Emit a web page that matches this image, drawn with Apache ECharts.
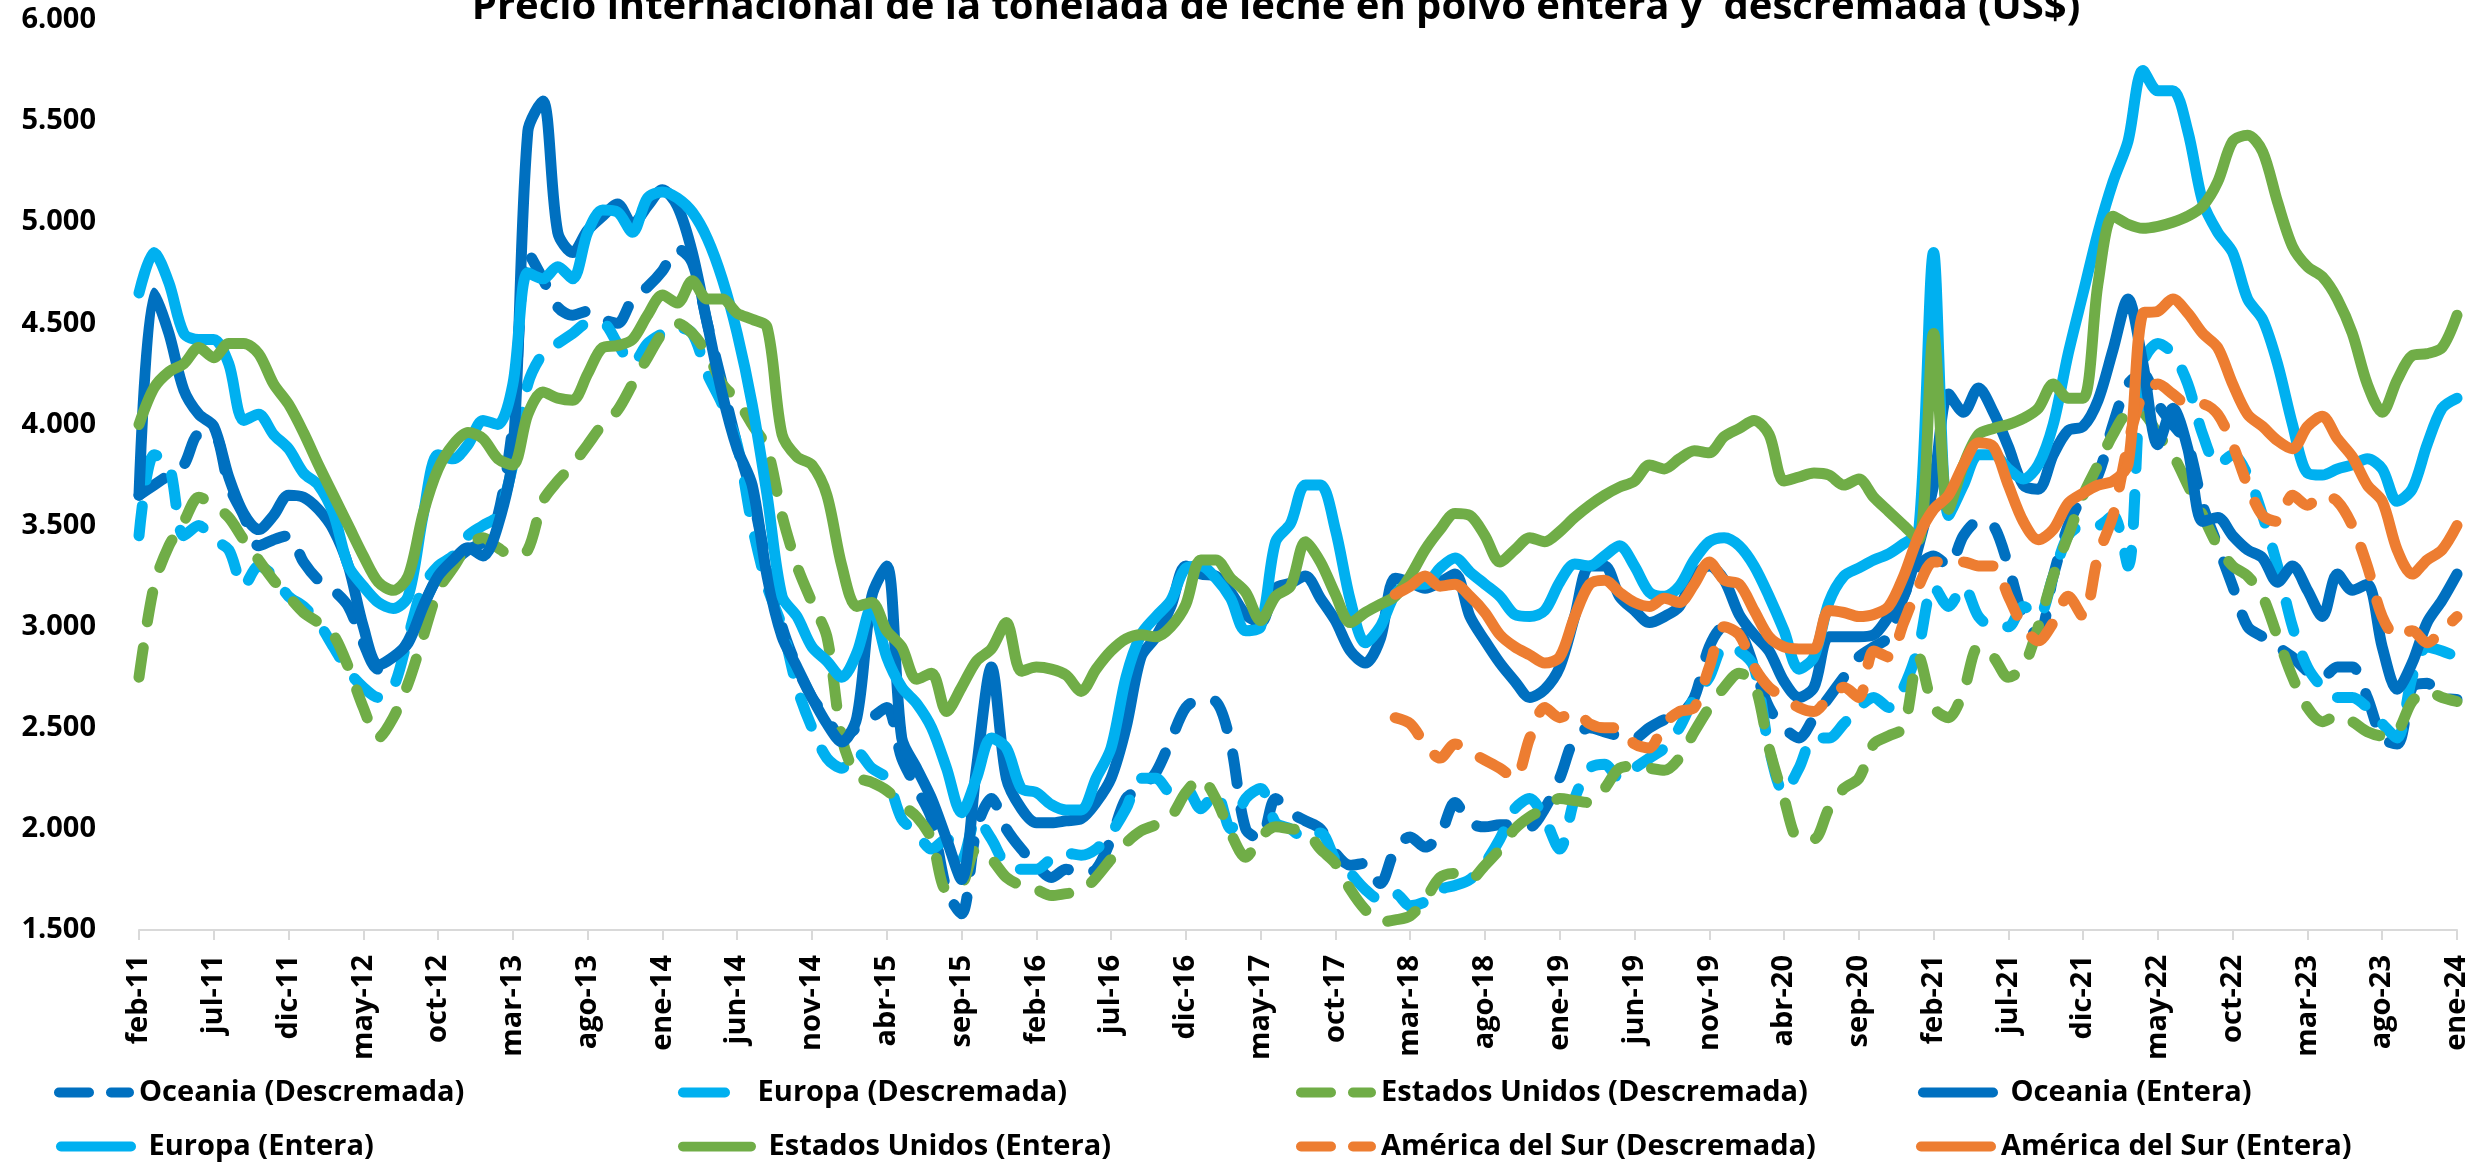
<!DOCTYPE html>
<html>
<head>
<meta charset="utf-8">
<script src="https://cdn.jsdelivr.net/npm/echarts@6/dist/echarts.min.js"></script>
<style>
  html, body { margin: 0; padding: 0; background: #ffffff; }
  #chart { width: 2483px; height: 1168px; }
</style>
</head>
<body>
<div id="chart"></div>
<script>
// Monthly categories: feb-11 .. ene-24
const monthNames = ['ene', 'feb', 'mar', 'abr', 'may', 'jun', 'jul', 'ago', 'sep', 'oct', 'nov', 'dic'];
const categories = [];
for (let k = 0; k < 156; k++) {
  const m = (1 + k) % 12;
  const y = 11 + Math.floor((1 + k) / 12);
  categories.push(monthNames[m] + '-' + y);
}

// US$ per tonne
const oceaniaDescremada = [
  3650, 3700, 3750, 3800, 3950, 3950, 3700, 3550, 3400, 3430,
  3450, 3320, 3230, 3180, 3100, 2920, 2790, 2830, 2930, 3100,
  3250, 3320, 3380, 3420, 3550, 4000, 4850, 4720, 4580, 4540,
  4560, 4520, 4500, 4620, 4680, 4760, 4870, 4800, 4500, 4200,
  3900, 3650, 3300, 3000, 2800, 2650, 2550, 2450, 2500, 2550,
  2600, 2350, 2200, 2050, 1700, 1580, 2000, 2150, 2000, 1900,
  1820, 1760, 1800, 1780, 1800, 1950, 2150, 2200, 2280, 2440,
  2600, 2640, 2630, 2420, 2000, 1950, 2150, 2080, 2040, 2000,
  1880, 1820, 1830, 1730, 1900, 1960, 1910, 1970, 2130, 2030,
  2010, 2020, 2020, 2010, 2100, 2250, 2450, 2500, 2480, 2460,
  2450, 2500, 2540, 2560, 2650, 2900, 3000, 2980, 2800, 2600,
  2500, 2450, 2550, 2650, 2750, 2850, 2900, 2950, 3150, 3300,
  3350, 3300, 3450, 3520, 3500, 3300, 3050, 2950, 3250, 3500,
  3650, 3750, 4000, 4200, 4250, 4100, 4000, 3900, 3600, 3400,
  3200, 3000, 2950, 2900, 2850, 2780, 2750, 2800, 2800, 2650,
  2450, 2420, 2700, 2720, 2650, 2640
];

const europaDescremada = [
  3450, 3850, 3800, 3450, 3500, 3430, 3380, 3200, 3300, 3250,
  3150, 3100, 3020, 2900, 2780, 2700, 2650, 2700, 2950, 3200,
  3300, 3350, 3450, 3500, 3550, 3800, 4200, 4350, 4400, 4450,
  4500, 4500, 4400, 4300, 4400, 4450, 4480, 4450, 4250, 4100,
  3900, 3500, 3200, 3000, 2700, 2500, 2350, 2300, 2380, 2300,
  2250, 2050, 1980, 1900, 1950, 1850, 2050, 1950, 1820, 1800,
  1800, 1850, 1880, 1870, 1900, 1980, 2100, 2250, 2250, 2180,
  2200, 2100, 2180, 2000, 2150, 2200, 2030, 2000, 1950, 1980,
  1850, 1780, 1700, 1650, 1680, 1620, 1640, 1700, 1720, 1750,
  1830, 1950, 2100, 2150, 2050, 1900, 2150, 2300, 2320, 2250,
  2300, 2350, 2400, 2500, 2650, 2750, 2900, 2880, 2800, 2400,
  2180, 2300, 2450, 2450, 2520, 2600, 2650, 2600, 2700, 2900,
  3200, 3100, 3200, 3050, 3000, 3000, 3100, 3050, 3250, 3450,
  3500, 3500, 3550, 3300, 4300, 4400, 4350, 4200, 3950, 3800,
  3850, 3750, 3550, 3300, 3000, 2800, 2700, 2650, 2650, 2600,
  2520, 2450, 2750, 2900, 2880, 2850
];

const eeuuDescremada = [
  2750, 3200, 3400, 3520, 3640, 3600, 3540, 3430, 3330, 3230,
  3150, 3070, 3020, 2960, 2800, 2600, 2450, 2550, 2720, 2950,
  3180, 3290, 3400, 3440, 3390, 3350, 3380, 3620, 3720, 3800,
  3900, 4000, 4070, 4200, 4330, 4450, 4500, 4450, 4350, 4200,
  4120, 4000, 3880, 3550, 3300, 3120, 2950, 2450, 2260, 2230,
  2190, 2120, 2060, 1950, 1700, 1720, 1900, 1850, 1760, 1720,
  1700, 1670, 1680, 1690, 1760, 1850, 1930, 1990, 2020, 2060,
  2180, 2250, 2150, 1980, 1860, 1960, 2010, 2000, 1990, 1900,
  1830, 1700, 1600, 1540, 1550, 1570, 1650, 1760, 1780, 1750,
  1820, 1900, 2000, 2060, 2100, 2150, 2140, 2130, 2200, 2300,
  2310, 2300, 2290, 2350, 2480, 2600, 2700, 2770, 2720, 2400,
  2150, 1950, 1950, 2100, 2200, 2250, 2420, 2460, 2500, 2850,
  2600, 2550, 2680, 2900, 2850, 2750, 2800, 3000, 3250, 3450,
  3650, 3800, 3950, 4050, 4050, 3950, 3850, 3700, 3550, 3400,
  3300, 3250, 3150, 2950, 2750, 2600, 2530, 2560, 2530, 2480,
  2460, 2480, 2630, 2680, 2650, 2630
];

const oceaniaEntera = [
  3650, 4650, 4450, 4170, 4050, 3990, 3740, 3560, 3480, 3550,
  3650, 3640, 3580, 3480, 3300, 3000, 2810, 2850, 2920, 3100,
  3250, 3330, 3390, 3350, 3500, 3850, 5450, 5600, 4950, 4850,
  4960, 5030, 5090, 4990, 5080, 5160, 5080, 4850, 4500, 4150,
  3880, 3700, 3250, 2950, 2800, 2650, 2520, 2430, 2550, 3150,
  3300, 2450, 2300, 2150, 1950, 1750, 2300, 2800, 2250, 2100,
  2030, 2030, 2040, 2050, 2130, 2250, 2500, 2850, 2950, 3100,
  3300, 3260, 3250, 3170, 3060, 3020, 3190, 3215, 3250, 3140,
  3030, 2880, 2820, 2940, 3240, 3220, 3190, 3220, 3260, 3050,
  2930, 2820, 2730, 2650, 2690, 2800, 3050, 3300, 3300, 3150,
  3080, 3020, 3050, 3100, 3250, 3300, 3230, 3060, 2960, 2880,
  2730, 2650, 2700, 2950, 2950, 2950, 2960, 3050, 3150, 3400,
  3700, 4150, 4060, 4180, 4060, 3890, 3700, 3680, 3850, 3970,
  3990, 4120, 4370, 4620, 4300, 3900, 4080, 3880, 3520, 3540,
  3450, 3380, 3340, 3220, 3300, 3180, 3050, 3260, 3180, 3210,
  2900, 2690, 2820, 3020, 3130, 3260
];

const europaEntera = [
  4650, 4850, 4700, 4450, 4420, 4420, 4300, 4020, 4050, 3950,
  3880, 3760, 3700, 3560, 3300, 3200, 3120, 3090, 3150, 3550,
  3850, 3830, 3900, 4020, 4000, 4200, 4750, 4720, 4780, 4720,
  4950, 5060, 5050, 4950, 5120, 5150, 5120, 5050, 4920, 4720,
  4450, 4100, 3650, 3150, 3050, 2900, 2830, 2750, 2870, 3100,
  2850, 2700, 2620, 2500, 2300, 2080, 2250, 2450, 2400, 2200,
  2180, 2120, 2094, 2094, 2250, 2400, 2750, 2960, 3050, 3130,
  3290, 3300, 3240, 3140, 2980, 3000, 3420, 3510, 3700, 3700,
  3480, 3130, 2920, 3000, 3160, 3210, 3210, 3290, 3340, 3270,
  3210, 3150, 3060, 3050, 3080, 3220, 3310, 3300, 3350, 3400,
  3300, 3170, 3150, 3200, 3330, 3420, 3440, 3400, 3300, 3150,
  2980, 2790, 2850, 3120, 3250, 3290, 3330, 3360, 3410, 3470,
  4850, 3550, 3700, 3850, 3850, 3780, 3730, 3800, 4000, 4350,
  4650, 4950, 5200, 5400, 5750, 5650, 5650, 5450, 5100, 4950,
  4850, 4620, 4520, 4300, 4000, 3760, 3750, 3780, 3800, 3830,
  3780, 3620, 3680, 3900, 4080, 4130
];

const eeuuEntera = [
  4000, 4180, 4260, 4300, 4380, 4330, 4400, 4400, 4350, 4200,
  4100, 3960, 3800, 3650, 3500, 3350, 3220, 3180, 3250, 3560,
  3780, 3900, 3960, 3930, 3830, 3800, 4050, 4160, 4130, 4120,
  4250, 4380, 4390, 4420, 4540, 4640, 4600, 4710, 4620, 4620,
  4550, 4520, 4480, 3950, 3840, 3800, 3650, 3300, 3100, 3120,
  2980, 2900, 2740, 2770, 2580, 2700, 2830, 2890, 3020, 2780,
  2800, 2790, 2760, 2680, 2790, 2880, 2940, 2960, 2950, 3000,
  3110, 3330, 3330, 3240, 3170, 3030, 3150, 3200, 3420, 3320,
  3160, 3020, 3070, 3110, 3150, 3250, 3380, 3480, 3560, 3550,
  3450, 3320, 3380, 3440, 3420, 3470, 3540, 3600, 3650, 3690,
  3720, 3800, 3780, 3830, 3870, 3860, 3940, 3980, 4020, 3950,
  3720, 3740, 3760, 3750, 3700, 3730, 3640, 3570, 3500, 3430,
  4450, 3580, 3800, 3950, 3980, 4000, 4030, 4080, 4200, 4130,
  4130, 4700, 5030, 4990, 4970, 4980, 5000, 5030, 5080, 5200,
  5400, 5430, 5350, 5100, 4880, 4780, 4730, 4620, 4450, 4200,
  4060, 4220, 4340, 4350, 4380, 4540
];

// South America is reported from feb-18 on (index 84)
const sudamericaDescremada = new Array(84).fill(null).concat([
  2550, 2520, 2420, 2350, 2420, 2380,
  2340, 2300, 2250, 2450, 2600, 2550, 2580, 2520, 2500, 2500,
  2420, 2400, 2520, 2580, 2600, 2800, 3000, 2960, 2800, 2700,
  2650, 2600, 2580, 2650, 2700, 2650, 2880, 2850, 3020, 3200,
  3320, 3320, 3320, 3300, 3300, 3150, 3000, 2930, 3020, 3150,
  3050, 3350, 3550, 3900, 4150, 4200, 4150, 4100, 4100, 4050,
  3900, 3700, 3550, 3520, 3650, 3600, 3650, 3620, 3500, 3300,
  3050, 2950, 2980, 2920, 2980, 3050
]);

const sudamericaEntera = new Array(84).fill(null).concat([
  3160, 3200, 3250, 3200, 3210, 3150,
  3070, 2960, 2900, 2860, 2820, 2850, 3050, 3210, 3230, 3170,
  3120, 3100, 3140, 3120, 3210, 3320, 3230, 3210, 3080, 2950,
  2900, 2890, 2890, 3080, 3070, 3050, 3060, 3100, 3250, 3450,
  3580, 3650, 3800, 3910, 3890, 3700, 3520, 3430, 3480, 3610,
  3660, 3700, 3720, 3800, 4550, 4560, 4620, 4550, 4450, 4380,
  4200, 4050, 3990, 3920, 3880, 3990, 4040, 3930, 3840, 3700,
  3620, 3380, 3260, 3330, 3380, 3500
]);

const COLORS = {
  oceania: '#0070C0',
  europa: '#00B0F0',
  eeuu: '#70AD47',
  sur: '#ED7D31'
};
const FONT = '"Open Sans", "Noto Sans", "DejaVu Sans", sans-serif';
const DASH = [30, 26];

function lineSeries(name, data, color, dashed) {
  return {
    name: name,
    type: 'line',
    data: data,
    symbol: 'none',
    showSymbol: false,
    smooth: 0.3,
    connectNulls: false,
    itemStyle: { color: color },
    lineStyle: {
      color: color,
      width: 11,
      type: dashed ? DASH : 'solid',
      cap: 'round',
      join: 'round'
    },
    emphasis: { disabled: true }
  };
}

const series = [
  lineSeries('Oceania (Descremada)', oceaniaDescremada, COLORS.oceania, true),
  lineSeries('Europa (Descremada)', europaDescremada, COLORS.europa, true),
  lineSeries('Estados Unidos (Descremada)', eeuuDescremada, COLORS.eeuu, true),
  lineSeries('Oceania (Entera)', oceaniaEntera, COLORS.oceania, false),
  lineSeries('Europa (Entera)', europaEntera, COLORS.europa, false),
  lineSeries('Estados Unidos (Entera)', eeuuEntera, COLORS.eeuu, false),
  lineSeries('América del Sur (Descremada)', sudamericaDescremada, COLORS.sur, true),
  lineSeries('América del Sur (Entera)', sudamericaEntera, COLORS.sur, false)
];

// Legend swatches
const ICON_SOLID = 'path://M5,0L75,0A5,5,0,0,1,75,10L5,10A5,5,0,0,1,5,0Z';
const ICON_DASHED = 'path://M5,0L35,0A5,5,0,0,1,35,10L5,10A5,5,0,0,1,5,0Z M57,0L75,0A5,5,0,0,1,75,10L57,10A5,5,0,0,1,57,0Z';
const ICON_SHORT = 'path://M5,0L47,0A5,5,0,0,1,47,10L5,10A5,5,0,0,1,5,0Z';

const ROW1 = 1078, ROW2 = 1132;
const legendItems = [
  { name: 'Oceania (Descremada)', left: 54, top: ROW1, icon: ICON_DASHED, w: 80, pre: '' },
  { name: 'Europa (Descremada)', left: 678, top: ROW1, icon: ICON_SHORT, w: 52, pre: '   ' },
  { name: 'Estados Unidos (Descremada)', left: 1296, top: ROW1, icon: ICON_DASHED, w: 80, pre: '' },
  { name: 'Oceania (Entera)', left: 1918, top: ROW1, icon: ICON_SOLID, w: 80, pre: ' ' },
  { name: 'Europa (Entera)', left: 56, top: ROW2, icon: ICON_SOLID, w: 80, pre: ' ' },
  { name: 'Estados Unidos (Entera)', left: 678, top: ROW2, icon: ICON_SOLID, w: 78, pre: ' ' },
  { name: 'América del Sur (Descremada)', left: 1296, top: ROW2, icon: ICON_DASHED, w: 80, pre: '' },
  { name: 'América del Sur (Entera)', left: 1916, top: ROW2, icon: ICON_SOLID, w: 80, pre: '' }
];

const legends = legendItems.map(function (it) {
  return {
    data: [{ name: it.name, icon: it.icon }],
    left: it.left,
    top: it.top,
    orient: 'horizontal',
    padding: 0,
    itemGap: 0,
    itemWidth: it.w,
    itemHeight: 10,
    selectedMode: false,
    itemStyle: { borderWidth: 0 },
    formatter: function (n) { return it.pre + n; },
    textStyle: { fontFamily: FONT, fontSize: 29, fontWeight: 'bold', color: '#000000' }
  };
});

function thousands(v) {
  return String(v).replace(/\B(?=(\d{3})+(?!\d))/g, '.');
}

const chart = echarts.init(document.getElementById('chart'), null, { renderer: 'canvas' });
chart.setOption({
  animation: false,
  backgroundColor: '#ffffff',
  title: {
    text: 'Precio internacional de la tonelada de leche en polvo entera y  descremada (US$)',
    left: 1276,
    top: -12,
    textAlign: 'center',
    padding: 0,
    textStyle: { fontFamily: FONT, fontSize: 40, fontWeight: 'bold', color: '#000000' }
  },
  legend: legends,
  grid: { left: 139, right: 26, top: 20, bottom: 238, containLabel: false },
  xAxis: {
    type: 'category',
    data: categories,
    boundaryGap: false,
    axisLine: { show: true, lineStyle: { color: '#d9d9d9', width: 2 } },
    axisTick: { show: true, interval: 4, length: 10, lineStyle: { color: '#d9d9d9', width: 2 } },
    splitLine: { show: false },
    axisLabel: {
      interval: 4,
      rotate: 90,
      margin: 25,
      align: 'right',
      verticalAlign: 'middle',
      padding: [22, 0, 0, 0],
      fontFamily: FONT,
      fontSize: 29,
      fontWeight: 'bold',
      color: '#000000'
    }
  },
  yAxis: {
    type: 'value',
    min: 1500,
    max: 6000,
    interval: 500,
    axisLine: { show: false },
    axisTick: { show: false },
    splitLine: { show: false },
    axisLabel: {
      margin: 43,
      fontFamily: FONT,
      fontSize: 29,
      fontWeight: 'bold',
      color: '#000000',
      formatter: thousands
    }
  },
  series: series
});
</script>
</body>
</html>
